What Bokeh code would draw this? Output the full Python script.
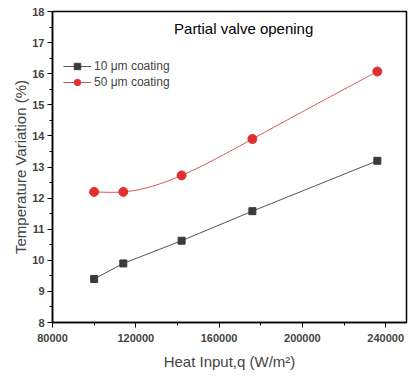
import numpy as np
from bokeh.plotting import figure
from bokeh.models import (Range1d, SingleIntervalTicker, BasicTickFormatter, Label,
                          Legend, LegendItem)
from bokeh.embed import file_html
from bokeh.resources import INLINE

heat_input = [100000, 114000, 142000, 176000, 236000]
coat10 = [9.4, 9.9, 10.63, 11.58, 13.2]
coat50 = [12.2, 12.2, 12.73, 13.9, 16.07]
series_names = ["10 \u03bcm coating", "50 \u03bcm coating"]
title_text = "Partial valve opening"
x_label = "Heat Input,q (W/m\u00b2)"
y_label = "Temperature Variation (%)"


def natural_spline(x, y, n=200):
    x = np.asarray(x, float); y = np.asarray(y, float)
    k = len(x)
    h = np.diff(x)
    A = np.zeros((k, k)); b = np.zeros(k)
    A[0, 0] = 1; A[-1, -1] = 1
    for i in range(1, k - 1):
        A[i, i - 1] = h[i - 1]
        A[i, i] = 2 * (h[i - 1] + h[i])
        A[i, i + 1] = h[i]
        b[i] = 3 * ((y[i + 1] - y[i]) / h[i] - (y[i] - y[i - 1]) / h[i - 1])
    c = np.linalg.solve(A, b)
    xs = np.linspace(x[0], x[-1], n)
    ys = np.empty_like(xs)
    for j, xv in enumerate(xs):
        i = min(np.searchsorted(x, xv, side="right") - 1, k - 2)
        dx = xv - x[i]
        bi = (y[i + 1] - y[i]) / h[i] - h[i] * (2 * c[i] + c[i + 1]) / 3
        di = (c[i + 1] - c[i]) / (3 * h[i])
        ys[j] = y[i] + bi * dx + c[i] * dx ** 2 + di * dx ** 3
    return xs, ys


p = figure(width=408, height=377, output_backend="svg", toolbar_location=None,
           x_range=Range1d(80000, 250000), y_range=Range1d(8, 18),
           min_border_left=52, min_border_right=2, min_border_top=11, min_border_bottom=55)
p.grid.visible = False
p.outline_line_color = "black"
p.outline_line_width = 1.5
p.background_fill_color = "white"
p.border_fill_color = "white"

font = "Liberation Sans"
p.xaxis.ticker = SingleIntervalTicker(interval=40000, num_minor_ticks=2)
p.yaxis.ticker = SingleIntervalTicker(interval=1, num_minor_ticks=2)
p.xaxis.formatter = BasicTickFormatter(use_scientific=False)
for ax in (p.xaxis, p.yaxis):
    ax.axis_line_width = 1.5
    ax.major_tick_in = 0
    ax.major_tick_out = 5
    ax.minor_tick_in = 0
    ax.minor_tick_out = 3
    ax.major_label_text_font = font
    ax.major_label_text_font_style = "bold"
    ax.major_label_text_font_size = "11px"
    ax.axis_label_text_font = font
    ax.axis_label_text_font_style = "normal"
    ax.axis_label_text_font_size = "15px"
p.xaxis.axis_label = x_label
p.yaxis.axis_label = y_label
p.xaxis.major_label_standoff = 6
p.yaxis.major_label_standoff = 3
p.xaxis.axis_label_standoff = 8
p.yaxis.axis_label_standoff = 0

black_col = "#3a3a3a"
red_col = "#e23030"

l1 = p.line(heat_input, coat10, line_color="#555555", line_width=1)
s1 = p.scatter(heat_input, coat10, marker="square", size=7, fill_color=black_col, line_color=black_col)

sx, sy = natural_spline(heat_input, coat50)
l2 = p.line(sx, sy, line_color="#d05050", line_width=1)
s2 = p.scatter(heat_input, coat50, marker="circle", size=9, fill_color=red_col, line_color=red_col)

legend = Legend(items=[LegendItem(label=series_names[0], renderers=[l1, s1]),
                       LegendItem(label=series_names[1], renderers=[l2, s2])],
                border_line_color=None, background_fill_alpha=0,
                label_text_font=font, label_text_font_size="12px",
                glyph_width=28, glyph_height=16, label_height=16, spacing=0,
                label_standoff=3, margin=0, padding=0)
legend.location = (11, 232)
p.add_layout(legend)

title = Label(x=171800, y=17.45, text=title_text, text_align="center", text_baseline="middle",
              text_font=font, text_font_size="15px", text_color="black")
p.add_layout(title)

open("out.html", "w").write(file_html(p, INLINE))
